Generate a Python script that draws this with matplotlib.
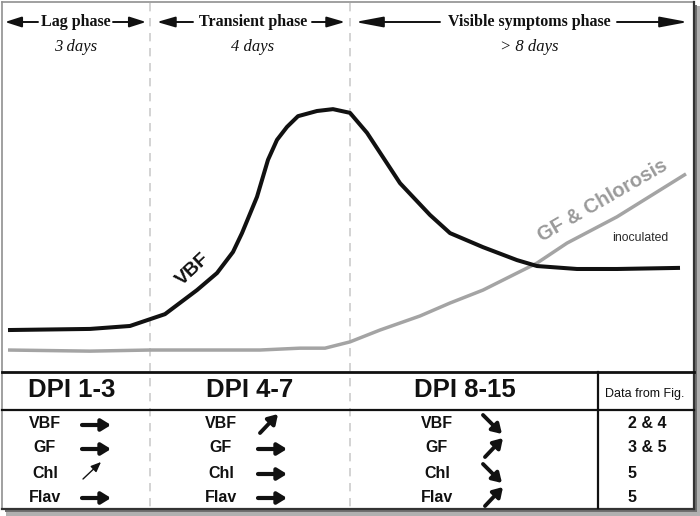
# schematic: VBF / GF & chlorosis time course with DPI summary table
import matplotlib
matplotlib.use("Agg")
import matplotlib.pyplot as plt
from matplotlib.patches import Rectangle

# curve data: day post inoculation vs relative level (0-100)
vbf_days = [0.16, 1.8, 2.6, 3.3, 3.94, 4.34, 4.66, 4.84, 5.14, 5.36, 5.54, 5.74,
            5.96, 6.34, 6.66, 7.0, 7.34, 8.0, 8.6, 9.0, 9.66, 10.34, 10.74,
            11.54, 12.34, 13.6]
vbf_level = [10.8, 11.1, 11.9, 15.1, 21.6, 26.2, 31.9, 37.0, 46.8, 56.8, 62.2, 65.7,
             68.6, 70.0, 70.5, 69.5, 64.1, 50.5, 41.9, 37.0, 33.2, 29.7, 28.1,
             27.3, 27.3, 27.6]
gf_days = [0.16, 1.8, 3.0, 5.2, 6.0, 6.5, 7.0, 7.6, 8.4, 9.0, 9.66, 10.34, 10.74,
           11.34, 12.34, 13.72]
gf_level = [5.4, 5.1, 5.4, 5.4, 5.9, 5.9, 7.6, 10.8, 14.6, 18.1, 21.6, 26.2, 28.9,
            34.3, 41.4, 53.0]

# phases
phase_names = ["Lag phase", "Transient phase", "Visible symptoms phase"]
phase_durations = ["3 days", "4 days", "> 8 days"]
phase_bounds = [0, 3, 7, 14]

# table
dpi_labels = ["DPI 1-3", "DPI 4-7", "DPI 8-15"]
variables = ["VBF", "GF", "Chl", "Flav"]
trends = [["right", "right", "up-thin", "right"],
          ["up", "right", "right", "right"],
          ["down", "up", "down", "up"]]
fig_refs = ["2 & 4", "3 & 5", "5", "5"]

W, H = 700, 516
fig = plt.figure(figsize=(7, 5.16), dpi=100)

# layout axes in pixel units
base = fig.add_axes([0, 0, 1, 1])
base.set_xlim(0, W)
base.set_ylim(H, 0)
base.axis("off")

# frame with drop shadow
base.add_patch(Rectangle((6, 6), 694, 510, facecolor="#b0b0b0", edgecolor="none", zorder=0))
base.add_patch(Rectangle((5, 5), 692, 507, facecolor="#707070", edgecolor="none", zorder=0))
base.add_patch(Rectangle((2, 1.5), 692, 507, facecolor="white", edgecolor="none", zorder=0.5))
base.plot([2, 2], [1.5, 508.5], color="#909090", lw=1.2, zorder=1)
base.plot([2, 694], [1.5, 1.5], color="#909090", lw=1.2, zorder=1)
base.plot([694, 694], [1.5, 508.5], color="#333333", lw=1.6, zorder=1)
base.plot([2, 694], [508.5, 508.5], color="#333333", lw=1.6, zorder=1)

# curve axes: day 0-14 across full width, level 0-100 above the table
top_frac = 370 / H
ax = fig.add_axes([0, 1 - top_frac, 1, top_frac])
ax.set_xlim(0, 14)
ax.set_ylim(0, 100)
ax.axis("off")
ax.patch.set_alpha(0)

px_per_day = W / 14
for b in phase_bounds[1:3]:
    base.plot([b * px_per_day, b * px_per_day], [3, 507], color="#cccccc", lw=1.2,
              ls=(0, (5, 4)), zorder=2)

ax.plot(gf_days, gf_level, color="#a4a4a4", lw=2.5, solid_capstyle="butt", zorder=3)
ax.plot(vbf_days, vbf_level, color="#111111", lw=2.9, solid_capstyle="butt", zorder=4)

ax.text(3.86, 27.3, "VBF", rotation=43, ha="center", va="center", fontsize=14,
        fontweight="bold", family="Liberation Sans", color="#111111")
ax.text(12.06, 45.7, "GF & Chlorosis", rotation=30, ha="center", va="center",
        fontsize=14.5, fontweight="bold", family="Liberation Sans", color="#9a9a9a")
ax.text(12.8, 35.7, "inoculated", ha="center", va="center", fontsize=8.8,
        family="Liberation Sans", color="#2a2a2a")

# phase headers
header_x = [76, 253, 529]
header_arrows = [((38, 5), (113, 146)), ((193, 157), (312, 345)), ((440, 355), (617, 688))]
head_len = [1.0, 1.1, 1.7]
for i, name in enumerate(phase_names):
    cx = header_x[i]
    base.text(cx, 22, name, ha="center", va="center", fontsize=11.5, fontweight="bold",
              family="Liberation Serif", color="#111111")
    base.text(cx, 47, phase_durations[i], ha="center", va="center", fontsize=12,
              style="italic", family="Liberation Serif", color="#111111")
    for x0, x1 in header_arrows[i]:
        base.annotate("", xy=(x1, 22), xytext=(x0, 22),
                      arrowprops=dict(arrowstyle="-|>,head_length=%.2f,head_width=0.32" % head_len[i],
                                      lw=1.4, color="#111111", shrinkA=0, shrinkB=0))

# table lines
base.plot([2, 694], [372, 372], color="#111111", lw=2.0, zorder=3)
base.plot([2, 694], [410, 410], color="#111111", lw=1.6, zorder=3)
base.plot([598, 598], [372, 508], color="#111111", lw=1.6, zorder=3)

dpi_x = [72, 250, 465]
label_x = [45, 221, 437]
row_y = [424, 448, 473, 497]
head = "-|>,head_length=0.55,head_width=0.34"
for c, lab in enumerate(dpi_labels):
    base.text(dpi_x[c], 390, lab, ha="center", va="center", fontsize=18.5,
              fontweight="bold", family="Liberation Sans", color="#111111")
    for r, var in enumerate(variables):
        y0 = row_y[r]
        base.text(label_x[c], y0, var, ha="center", va="center", fontsize=11.5,
                  fontweight="bold", family="Liberation Sans", color="#111111")
        t = trends[c][r]
        if c == 0:
            x0 = 82
        elif c == 1:
            x0 = 258
        else:
            x0 = 483
        if t == "right":
            start, end, lw, hs = (x0, y0 + 1), (x0 + 29, y0 + 1), 3.0, head
        elif t == "up":
            start, end, lw, hs = (x0 + 2, y0 + 9), (x0 + 20, y0 - 10), 2.8, head
        elif t == "down":
            start, end, lw, hs = (x0, y0 - 9), (x0 + 19, y0 + 10), 2.8, head
        else:
            start, end, lw, hs = (x0 + 1, y0 + 6), (x0 + 19, y0 - 11), 1.0, "-|>,head_length=0.6,head_width=0.25"
        base.annotate("", xy=end, xytext=start,
                      arrowprops=dict(arrowstyle=hs, lw=lw, color="#111111",
                                      shrinkA=0, shrinkB=0))

base.text(645, 394, "Data from Fig.", ha="center", va="center", fontsize=9,
          family="Liberation Sans", color="#111111")
for r, ref in enumerate(fig_refs):
    base.text(628, row_y[r], ref, ha="left", va="center", fontsize=11.5,
              fontweight="bold", family="Liberation Sans", color="#111111")

fig.savefig("out.png", dpi=100)
